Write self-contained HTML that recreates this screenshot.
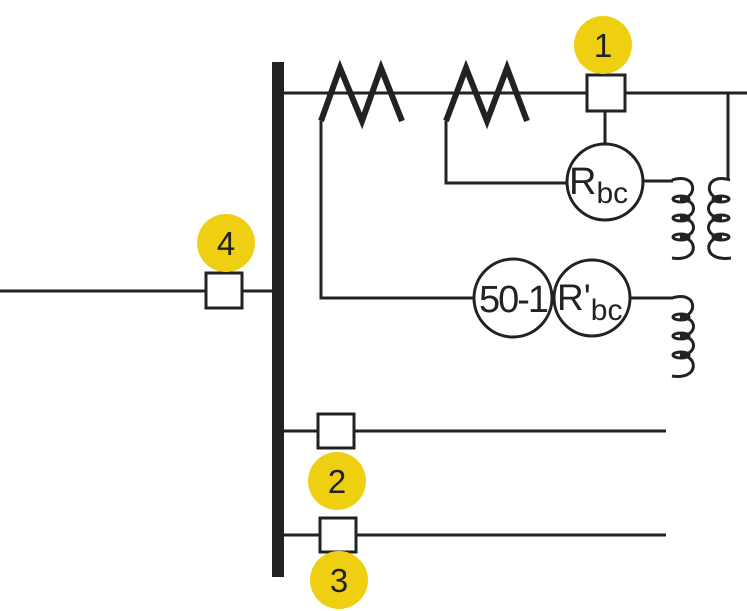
<!DOCTYPE html>
<html><head><style>body{margin:0;background:#fff}svg{display:block}</style></head><body>
<svg width="747" height="611" viewBox="0 0 747 611" xmlns="http://www.w3.org/2000/svg">
<rect width="747" height="611" fill="#fff"/>
<g stroke="#222" stroke-width="3" fill="none">
<line x1="278" y1="93" x2="747" y2="93"/>
<line x1="0" y1="291" x2="278" y2="291"/>
<line x1="278" y1="431" x2="666" y2="431"/>
<line x1="278" y1="535" x2="666" y2="535"/>
<polyline points="321,121 340,68 362,121 381,68 402,121" stroke-width="6" stroke-linejoin="miter"/>
<polyline points="446,121 466,68 487,121 507,68 527,121" stroke-width="6"/>
<polyline points="321,121 321,298 474,298"/>
<polyline points="446,121 446,183 567,183"/>
<line x1="605" y1="111" x2="605" y2="143"/>
<line x1="644" y1="181" x2="673" y2="181"/>
<line x1="631" y1="298" x2="673" y2="298"/>
<polyline points="728,93 728,180"/>
<rect x="587" y="75" width="38" height="36" fill="#fff"/>
<rect x="206" y="273" width="36" height="35" fill="#fff"/>
<rect x="318" y="414" width="36" height="34" fill="#fff"/>
<rect x="320" y="518" width="36" height="34" fill="#fff"/>
<circle cx="605" cy="182" r="38" fill="#fff"/>
<circle cx="513" cy="298" r="39" fill="#fff"/>
<circle cx="592" cy="298" r="38" fill="#fff"/>
<path d="M672,180 C698,172 698,199 680,199 C698,199 698,218 680,218 C698,218 698,237 680,237 C698,237 700,262 672,258"/>
<ellipse cx="681" cy="199" rx="8" ry="3"/><ellipse cx="681" cy="218" rx="8" ry="3"/><ellipse cx="681" cy="237" rx="8" ry="3"/>
<path d="M730,180 C704,172 704,199 722,199 C704,199 704,218 722,218 C704,218 704,237 722,237 C704,237 702,262 731,258"/>
<ellipse cx="721" cy="199" rx="8" ry="3"/><ellipse cx="721" cy="218" rx="8" ry="3"/><ellipse cx="721" cy="237" rx="8" ry="3"/>
<path d="M672,298 C698,290 698,317 680,317 C698,317 698,336 680,336 C698,336 698,355 680,355 C698,355 700,380 672,376"/>
<ellipse cx="681" cy="317" rx="8" ry="3"/><ellipse cx="681" cy="336" rx="8" ry="3"/><ellipse cx="681" cy="355" rx="8" ry="3"/>
</g>
<rect x="272" y="62" width="12" height="515" fill="#222"/>
<g fill="#EFCF12">
<circle cx="603" cy="45" r="29"/><circle cx="226" cy="243" r="29"/>
<circle cx="337" cy="481" r="29"/><circle cx="339" cy="580" r="29"/>
</g>
<g font-family="Liberation Sans, sans-serif" fill="#222" text-anchor="middle">
<text x="603" y="57" font-size="33">1</text>
<text x="226" y="255" font-size="33">4</text>
<text x="337" y="493" font-size="33">2</text>
<text x="339" y="592" font-size="33">3</text>
<text x="513" y="312" font-size="38" letter-spacing="-2">50-1</text>
<text x="569" y="194" font-size="38" text-anchor="start">R<tspan font-size="30" dy="9">bc</tspan></text>
<text x="557" y="310" font-size="37" text-anchor="start">R'<tspan font-size="30" dy="10">bc</tspan></text>
</g>
</svg>
</body></html>
